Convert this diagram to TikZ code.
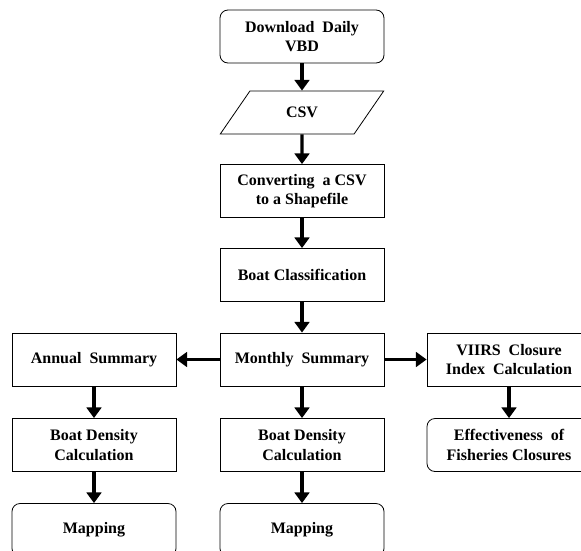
\documentclass[tikz,border=0pt]{standalone}
\usepackage{fontspec}
\setmainfont{Liberation Serif}
\usetikzlibrary{arrows.meta,shapes.geometric}

\begin{document}
\begin{tikzpicture}[x=0.75pt,y=0.75pt,yscale=-1,xscale=1,
  box/.style={draw,line width=0.6pt,minimum width=123pt,minimum height=39.75pt,align=center,inner sep=0.75pt,font=\fontsize{12}{14.5}\selectfont\bfseries},
  rbox/.style={box,rounded corners=6pt},
  databox/.style={box,trapezium,trapezium left angle=53,trapezium right angle=127,trapezium stretches=true,minimum height=32.25pt},
  flow/.style={line width=2.4pt,-{Triangle[width=11pt,length=8pt]}}]
%set diagram to 581 x 550
\useasboundingbox (0,0) rectangle (581,550);

% Main column
\node [rbox] (download) at (302,36.5) {Download\ \ Daily\\VBD};
\node [databox] (csv) at (302,112.5) {CSV};
\node [box] (convert) at (302,191) {Converting\ \ a CSV\\to a Shapefile};
\node [box] (classify) at (302,275) {Boat Classification};

% Summary row
\node [box] (annual) at (94,359.5) {Annual\ \ Summary};
\node [box] (monthly) at (302,359.5) {Monthly\ \ Summary};
\node [box] (viirs) at (509,359.5) {VIIRS\ \ Closure\\Index\ \ Calculation};

% Second row
\node [box] (densityA) at (94,445) {Boat Density\\Calculation};
\node [box] (densityM) at (302,445) {Boat Density\\Calculation};
\node [rbox] (effect) at (509,445) {Effectiveness\ \ of\\Fisheries Closures};

% Bottom row (cut off at the lower edge)
\node [rbox] (mapA) at (94,530) {Mapping};
\node [rbox] (mapM) at (302,530) {Mapping};

% Arrows
\draw [flow] (download) -- (csv);
\draw [flow] (csv) -- (convert);
\draw [flow] (convert) -- (classify);
\draw [flow] (classify) -- (monthly);
\draw [flow] (monthly) -- (annual);
\draw [flow] (monthly) -- (viirs);
\draw [flow] (annual) -- (densityA);
\draw [flow] (monthly) -- (densityM);
\draw [flow] (viirs) -- (effect);
\draw [flow] (densityA) -- (mapA);
\draw [flow] (densityM) -- (mapM);

\end{tikzpicture}
\end{document}
